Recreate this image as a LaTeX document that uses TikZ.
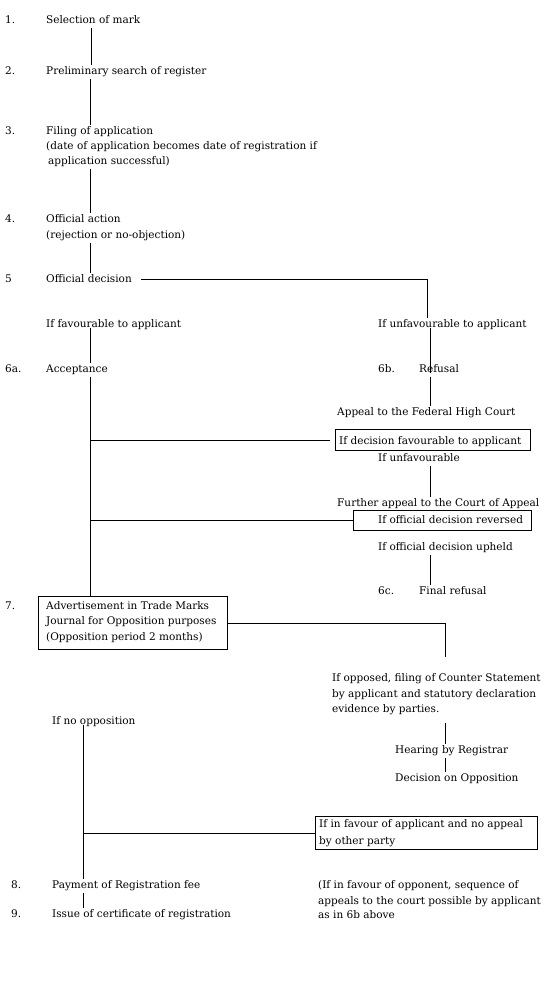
\documentclass[tikz,border=0pt]{standalone}
\usepackage{fontspec}
\setmainfont{DejaVu Serif}
\begin{document}
\begin{tikzpicture}[x=1pt,y=-1pt,
  every node/.style={font=\fontsize{10.5}{12}\selectfont},
  txt/.style={anchor=base west, text height=8pt, text depth=3pt, inner sep=1pt, yshift=-1pt},
  boxst/.style={draw, anchor=north west, inner sep=0pt, line width=0.9pt},
  ln/.style={line width=0.9pt}]
\useasboundingbox[fill=white] (0,0) rectangle (552,1000);
% columns
\coordinate (L1) at (91,0);
\coordinate (L) at (90,0);
\coordinate (R0) at (427,0);
\coordinate (R) at (430,0);
\coordinate (R2) at (445,0);
\coordinate (L2) at (83,0);
% left column
\node[txt] (n1) at (4,22.5) {1.};
\node[txt] (t1) at (45,22.5) {Selection of mark};
\node[txt] (n2) at (4,73.5) {2.};
\node[txt] (t2) at (45,73.5) {Preliminary search of register};
\node[txt] (n3) at (4,133.5) {3.};
\node[txt] (t3a) at (45,133.5) {Filing of application};
\node[txt] (t3b) at (45,148.5) {(date of application becomes date of registration if};
\node[txt] (t3c) at (47,163.5) {application successful)};
\node[txt] (n4) at (4,221.5) {4.};
\node[txt] (t4a) at (45,221.5) {Official action};
\node[txt] (t4b) at (45,237.5) {(rejection or no-objection)};
\node[txt] (n5) at (4,281.5) {5};
\node[txt] (t5) at (45,281.5) {Official decision};
\node[txt] (fav) at (45,326.5) {If favourable to applicant};
\node[txt] (unfav) at (377,326.5) {If unfavourable to applicant};
\node[txt] (n6a) at (4,371.5) {6a.};
\node[txt] (t6a) at (45,371.5) {Acceptance};
\node[txt] (n6b) at (377,371.5) {6b.};
\node[txt] (t6b) at (418,371.5) {Refusal};
\node[txt] (appeal) at (336,414.5) {Appeal to the Federal High Court};
\node[boxst, minimum width=195pt, minimum height=21pt] (b1) at (335,429) {};
\node[txt] (b1t) at (338,443.5) {If decision favourable to applicant};
\node[txt] (ifunfav) at (377,460.5) {If unfavourable};
\node[txt] (further) at (336,505.5) {Further appeal to the Court of Appeal};
\node[boxst, minimum width=178pt, minimum height=20pt] (b2) at (353,510) {};
\node[txt] (b2t) at (377,522.5) {If official decision reversed};
\node[txt] (upheld) at (377,549.5) {If official decision upheld};
\node[txt] (n6c) at (377,593.5) {6c.};
\node[txt] (t6c) at (418,593.5) {Final refusal};
\node[txt] (n7) at (4,608.5) {7.};
\node[boxst, minimum width=189pt, minimum height=53pt] (b7) at (38,596) {};
\node[txt] (b7a) at (45,608.5) {Advertisement in Trade Marks};
\node[txt] (b7b) at (45,623.5) {Journal for Opposition purposes};
\node[txt] (b7c) at (45,639.5) {(Opposition period 2 months)};
\node[txt] (opp1) at (331,680.5) {If opposed, filing of Counter Statement};
\node[txt] (opp2) at (331,696.5) {by applicant and statutory declaration};
\node[txt] (opp3) at (331,711.5) {evidence by parties.};
\node[txt] (noopp) at (51,723.5) {If no opposition};
\node[txt] (hear) at (394,752.5) {Hearing by Registrar};
\node[txt] (dec) at (394,780.5) {Decision on Opposition};
\node[boxst, minimum width=222pt, minimum height=33pt] (b3) at (315,816) {};
\node[txt] (b3a) at (318,826.5) {If in favour of applicant and no appeal};
\node[txt] (b3b) at (318,843.5) {by other party};
\node[txt] (n8) at (10,887.5) {8.};
\node[txt] (t8) at (51,887.5) {Payment of Registration fee};
\node[txt] (n9) at (10,916.5) {9.};
\node[txt] (t9) at (51,916.5) {Issue of certificate of registration};
\node[txt] (fo1) at (317,887.5) {(If in favour of opponent, sequence of};
\node[txt] (fo2) at (317,903.5) {appeals to the court possible by applicant};
\node[txt] (fo3) at (317,917.5) {as in 6b above};
% connectors
\draw[ln] (t1.south -| L1) -- (t2.north -| L1);
\draw[ln] (t2.south -| L) -- (t3a.north -| L);
\draw[ln] (t3c.south -| L) -- (t4a.north -| L);
\draw[ln] (t4b.south -| L) -- (t5.north -| L);
\draw[ln] ([xshift=8pt,yshift=1pt]t5.east) -- ([yshift=1pt]t5.east -| R0) -- (unfav.north -| R0);
\draw[ln] (fav.base -| L) -- (t6a.north -| L);
\draw[ln] (t6a.south -| L) -- (b7.north -| L);
\draw[ln] (unfav.base -| R) -- (t6b.base -| R);
\draw[ln] (t6b.south -| R) -- (appeal.north -| R);
\draw[ln] (b1.west -| L) -- ([xshift=-5pt]b1.west);
\draw[ln] (ifunfav.south -| R) -- (further.north -| R);
\draw[ln] (b2.west -| L) -- (b2.west);
\draw[ln] (upheld.south -| R) -- (t6c.north -| R);
\draw[ln, shorten >=15pt] (b7.east) -- (b7.east -| R2) -- (opp1.north -| R2);
\draw[ln, shorten <=6pt] (opp3.south -| R2) -- (hear.north -| R2);
\draw[ln] (hear.south -| R2) -- (dec.north -| R2);
\draw[ln] (noopp.base -| L2) -- (b3.west -| L2) -- (b3.west);
\draw[ln] (b3.west -| L2) -- (t8.north -| L2);
\draw[ln] (t8.south -| L2) -- (t9.north -| L2);
\end{tikzpicture}
\end{document}
